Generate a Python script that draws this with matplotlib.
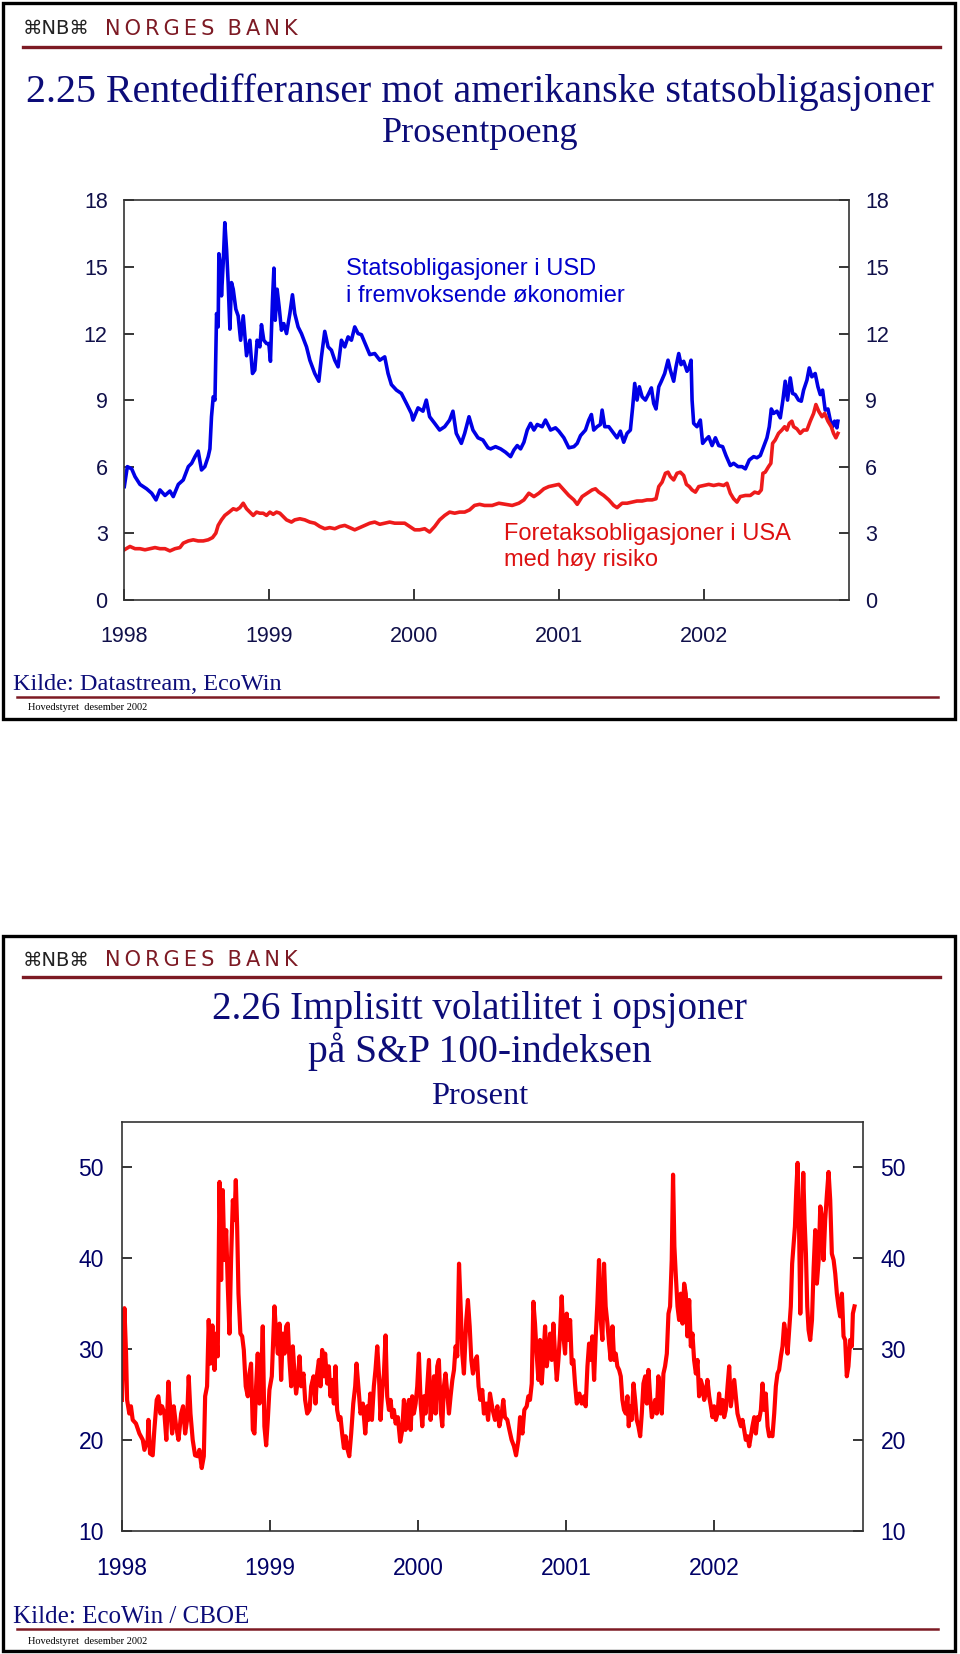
import numpy as np
import matplotlib
matplotlib.use("Agg")
import matplotlib.pyplot as plt
from matplotlib.patches import Rectangle
from matplotlib.lines import Line2D

# chart 2.25: spreads against US treasuries (percentage points)
em_t = [1998.000, 1998.021, 1998.051, 1998.074, 1998.108, 1998.154, 1998.189, 1998.219, 1998.246, 1998.281,
        1998.315, 1998.338, 1998.373, 1998.407, 1998.442, 1998.465, 1998.488, 1998.510, 1998.533, 1998.556,
        1998.579, 1998.591, 1998.602, 1998.614, 1998.626, 1998.637, 1998.648, 1998.653, 1998.665, 1998.671,
        1998.683, 1998.694, 1998.706, 1998.717, 1998.729, 1998.740, 1998.752, 1998.770, 1998.786, 1998.803,
        1998.821, 1998.844, 1998.867, 1998.885, 1998.901, 1998.917, 1998.936, 1998.947, 1998.963, 1998.982,
        1998.998, 1999.009, 1999.023, 1999.033, 1999.042, 1999.055, 1999.069, 1999.085, 1999.101, 1999.120,
        1999.143, 1999.161, 1999.177, 1999.200, 1999.223, 1999.258, 1999.281, 1999.315, 1999.343, 1999.361,
        1999.384, 1999.407, 1999.430, 1999.453, 1999.476, 1999.499, 1999.522, 1999.545, 1999.568, 1999.591,
        1999.614, 1999.637, 1999.672, 1999.695, 1999.729, 1999.764, 1999.798, 1999.821, 1999.844, 1999.879,
        1999.913, 1999.948, 1999.982, 1999.993, 2000.028, 2000.062, 2000.085, 2000.108, 2000.143, 2000.177,
        2000.212, 2000.246, 2000.269, 2000.292, 2000.327, 2000.350, 2000.380, 2000.407, 2000.442, 2000.476,
        2000.511, 2000.529, 2000.563, 2000.598, 2000.632, 2000.667, 2000.690, 2000.713, 2000.736, 2000.759,
        2000.782, 2000.805, 2000.828, 2000.851, 2000.885, 2000.908, 2000.943, 2000.977, 2001.000, 2001.035,
        2001.069, 2001.104, 2001.127, 2001.150, 2001.184, 2001.207, 2001.225, 2001.241, 2001.264, 2001.287,
        2001.299, 2001.317, 2001.345, 2001.379, 2001.402, 2001.425, 2001.448, 2001.471, 2001.494, 2001.510,
        2001.524, 2001.540, 2001.556, 2001.575, 2001.598, 2001.621, 2001.639, 2001.655, 2001.671, 2001.690,
        2001.708, 2001.731, 2001.754, 2001.770, 2001.793, 2001.809, 2001.828, 2001.844, 2001.862, 2001.885,
        2001.901, 2001.913, 2001.920, 2001.931, 2001.954, 2001.977, 2001.993, 2002.012, 2002.035, 2002.058,
        2002.081, 2002.104, 2002.131, 2002.154, 2002.184, 2002.207, 2002.237, 2002.265, 2002.288, 2002.315,
        2002.345, 2002.368, 2002.391, 2002.414, 2002.437, 2002.453, 2002.467, 2002.483, 2002.506, 2002.529,
        2002.547, 2002.563, 2002.579, 2002.598, 2002.614, 2002.632, 2002.655, 2002.674, 2002.690, 2002.713,
        2002.729, 2002.747, 2002.770, 2002.789, 2002.805, 2002.821, 2002.839, 2002.858, 2002.874, 2002.890,
        2002.904, 2002.920, 2002.927]
em_spread = [5.1, 6.0, 5.9, 5.55, 5.2, 5.0, 4.8, 4.5, 4.95, 4.7,
             4.9, 4.65, 5.2, 5.4, 6.0, 6.15, 6.45, 6.7, 5.85, 6.0,
             6.45, 6.8, 8.25, 9.15, 9.0, 12.9, 12.3, 15.6, 15.0, 13.7,
             15.2, 17.0, 15.8, 14.3, 12.2, 14.3, 14.0, 13.1, 12.8, 11.7,
             12.8, 11.0, 11.7, 10.2, 10.35, 11.7, 11.4, 12.4, 11.7, 11.55,
             11.55, 10.75, 13.5, 14.95, 12.6, 14.0, 13.2, 12.15, 12.45, 12.0,
             12.9, 13.75, 12.9, 12.3, 12.0, 11.4, 10.8, 10.2, 9.85, 10.95,
             12.1, 11.4, 11.25, 10.8, 10.5, 11.7, 11.4, 11.85, 11.7, 12.3,
             12.0, 11.95, 11.4, 11.05, 11.1, 10.8, 10.95, 10.2, 9.7, 9.45,
             9.3, 8.85, 8.4, 8.1, 8.65, 8.5, 9.0, 8.25, 7.95, 7.65,
             7.8, 8.1, 8.5, 7.5, 7.05, 7.5, 8.25, 7.65, 7.3, 7.2,
             6.85, 6.8, 6.9, 6.8, 6.65, 6.45, 6.75, 6.95, 6.8, 7.1,
             7.65, 7.95, 7.65, 7.9, 7.8, 8.1, 7.65, 7.75, 7.6, 7.3,
             6.85, 6.9, 7.05, 7.4, 7.65, 8.1, 8.35, 7.65, 7.8, 7.9,
             8.55, 7.8, 7.8, 7.5, 7.3, 7.6, 7.1, 7.5, 7.65, 8.7,
             9.75, 9.0, 9.6, 9.15, 9.0, 9.3, 9.55, 8.85, 8.6, 9.6,
             9.85, 10.2, 10.8, 10.35, 9.85, 10.5, 11.1, 10.6, 10.75, 10.3,
             10.5, 10.8, 9.0, 7.95, 7.8, 8.1, 7.05, 7.2, 7.35, 6.95,
             7.3, 6.95, 6.9, 6.5, 6.05, 6.15, 6.0, 6.0, 5.9, 6.3,
             6.45, 6.4, 6.5, 6.9, 7.3, 7.8, 8.6, 8.4, 8.5, 8.2,
             9.0, 9.85, 9.0, 10.0, 9.3, 9.25, 9.0, 8.95, 9.45, 9.9,
             10.45, 10.05, 10.2, 9.6, 9.25, 9.45, 8.55, 8.6, 8.1, 7.8,
             8.05, 7.75, 8.05]

hy_t = [1998.000, 1998.039, 1998.074, 1998.108, 1998.143, 1998.177, 1998.212, 1998.246, 1998.281, 1998.315,
        1998.350, 1998.384, 1998.407, 1998.442, 1998.476, 1998.510, 1998.545, 1998.579, 1998.609, 1998.632,
        1998.648, 1998.671, 1998.694, 1998.724, 1998.752, 1998.775, 1998.798, 1998.821, 1998.844, 1998.867,
        1998.890, 1998.913, 1998.936, 1998.959, 1998.982, 1999.005, 1999.028, 1999.051, 1999.074, 1999.097,
        1999.120, 1999.154, 1999.177, 1999.212, 1999.246, 1999.281, 1999.315, 1999.350, 1999.384, 1999.418,
        1999.453, 1999.488, 1999.522, 1999.557, 1999.591, 1999.626, 1999.660, 1999.695, 1999.729, 1999.764,
        1999.798, 1999.832, 1999.867, 1999.901, 1999.936, 1999.970, 2000.005, 2000.039, 2000.074, 2000.108,
        2000.143, 2000.177, 2000.212, 2000.246, 2000.281, 2000.315, 2000.350, 2000.384, 2000.418, 2000.453,
        2000.487, 2000.540, 2000.586, 2000.632, 2000.678, 2000.724, 2000.759, 2000.793, 2000.828, 2000.862,
        2000.897, 2000.931, 2000.966, 2001.000, 2001.035, 2001.069, 2001.104, 2001.127, 2001.161, 2001.196,
        2001.230, 2001.253, 2001.276, 2001.310, 2001.345, 2001.379, 2001.402, 2001.437, 2001.471, 2001.506,
        2001.540, 2001.575, 2001.609, 2001.644, 2001.671, 2001.690, 2001.713, 2001.736, 2001.754, 2001.770,
        2001.793, 2001.816, 2001.839, 2001.862, 2001.881, 2001.901, 2001.920, 2001.943, 2001.966, 2002.000,
        2002.035, 2002.069, 2002.104, 2002.138, 2002.161, 2002.184, 2002.207, 2002.230, 2002.253, 2002.288,
        2002.322, 2002.352, 2002.379, 2002.398, 2002.409, 2002.425, 2002.448, 2002.464, 2002.476, 2002.494,
        2002.517, 2002.540, 2002.559, 2002.575, 2002.591, 2002.609, 2002.621, 2002.644, 2002.667, 2002.690,
        2002.713, 2002.736, 2002.759, 2002.775, 2002.794, 2002.817, 2002.835, 2002.858, 2002.881, 2002.897,
        2002.913, 2002.927]
hy_spread = [2.25, 2.4, 2.3, 2.3, 2.25, 2.3, 2.35, 2.3, 2.3, 2.2,
             2.3, 2.35, 2.55, 2.65, 2.7, 2.65, 2.65, 2.7, 2.8, 3.0,
             3.35, 3.6, 3.8, 3.95, 4.1, 4.05, 4.15, 4.35, 4.1, 3.95,
             3.8, 3.95, 3.9, 3.9, 3.8, 3.95, 3.85, 3.95, 3.9, 3.75,
             3.6, 3.5, 3.6, 3.65, 3.6, 3.5, 3.45, 3.3, 3.2, 3.25,
             3.2, 3.3, 3.35, 3.25, 3.15, 3.25, 3.35, 3.45, 3.5, 3.4,
             3.45, 3.5, 3.45, 3.45, 3.45, 3.3, 3.15, 3.15, 3.2, 3.05,
             3.3, 3.6, 3.8, 3.95, 3.9, 3.95, 3.95, 4.05, 4.25, 4.3,
             4.25, 4.25, 4.35, 4.3, 4.25, 4.35, 4.5, 4.8, 4.65, 4.8,
             5.0, 5.1, 5.15, 5.2, 4.95, 4.7, 4.5, 4.3, 4.65, 4.8,
             4.95, 5.0, 4.85, 4.7, 4.5, 4.25, 4.15, 4.35, 4.35, 4.4,
             4.45, 4.45, 4.5, 4.5, 4.55, 5.1, 5.3, 5.7, 5.75, 5.55,
             5.4, 5.7, 5.75, 5.6, 5.2, 5.1, 4.95, 4.85, 5.1, 5.15,
             5.2, 5.15, 5.2, 5.15, 5.25, 4.8, 4.55, 4.4, 4.65, 4.7,
             4.7, 4.85, 4.8, 4.95, 5.7, 5.75, 6.0, 6.15, 7.05, 7.2,
             7.5, 7.65, 7.8, 7.65, 7.95, 8.05, 7.8, 7.7, 7.5, 7.65,
             7.65, 8.05, 8.4, 8.8, 8.5, 8.25, 8.4, 8.05, 7.8, 7.5,
             7.3, 7.5]

# chart 2.26: implied volatility, S&P 100 options (percent)
vol_t = [1998.000, 1998.017, 1998.028, 1998.035, 1998.050, 1998.061, 1998.073, 1998.095, 1998.118, 1998.141,
         1998.152, 1998.174, 1998.179, 1998.190, 1998.208, 1998.219, 1998.235, 1998.246, 1998.260, 1998.271,
         1998.287, 1998.300, 1998.314, 1998.327, 1998.339, 1998.350, 1998.366, 1998.382, 1998.400, 1998.413,
         1998.427, 1998.440, 1998.451, 1998.463, 1998.478, 1998.494, 1998.512, 1998.523, 1998.539, 1998.553,
         1998.562, 1998.575, 1998.586, 1998.598, 1998.611, 1998.625, 1998.636, 1998.647, 1998.659, 1998.670,
         1998.681, 1998.692, 1998.704, 1998.715, 1998.726, 1998.737, 1998.749, 1998.760, 1998.769, 1998.778,
         1998.787, 1998.800, 1998.812, 1998.823, 1998.836, 1998.850, 1998.861, 1998.872, 1998.884, 1998.895,
         1998.906, 1998.917, 1998.929, 1998.940, 1998.951, 1998.962, 1998.974, 1998.985, 1998.996, 1999.012,
         1999.030, 1999.041, 1999.053, 1999.064, 1999.075, 1999.086, 1999.098, 1999.109, 1999.120, 1999.131,
         1999.143, 1999.154, 1999.165, 1999.176, 1999.188, 1999.199, 1999.210, 1999.226, 1999.237, 1999.251,
         1999.267, 1999.278, 1999.294, 1999.307, 1999.318, 1999.330, 1999.341, 1999.352, 1999.363, 1999.372,
         1999.386, 1999.397, 1999.408, 1999.420, 1999.431, 1999.442, 1999.453, 1999.465, 1999.476, 1999.487,
         1999.499, 1999.510, 1999.521, 1999.535, 1999.548, 1999.562, 1999.575, 1999.584, 1999.598, 1999.611,
         1999.627, 1999.643, 1999.656, 1999.665, 1999.677, 1999.688, 1999.701, 1999.712, 1999.724, 1999.735,
         1999.746, 1999.758, 1999.769, 1999.780, 1999.791, 1999.803, 1999.814, 1999.825, 1999.836, 1999.848,
         1999.863, 1999.879, 1999.893, 1999.904, 1999.915, 1999.926, 1999.938, 1999.949, 1999.960, 1999.971,
         1999.983, 1999.994, 2000.005, 2000.017, 2000.028, 2000.039, 2000.050, 2000.062, 2000.073, 2000.084,
         2000.095, 2000.107, 2000.118, 2000.129, 2000.140, 2000.152, 2000.163, 2000.174, 2000.185, 2000.197,
         2000.208, 2000.219, 2000.231, 2000.242, 2000.253, 2000.264, 2000.276, 2000.287, 2000.298, 2000.309,
         2000.325, 2000.336, 2000.348, 2000.359, 2000.370, 2000.386, 2000.397, 2000.408, 2000.420, 2000.433,
         2000.444, 2000.460, 2000.472,
         2000.485, 2000.503, 2000.519, 2000.535, 2000.548, 2000.564, 2000.575, 2000.586, 2000.602, 2000.616,
         2000.631, 2000.647, 2000.661, 2000.677, 2000.688, 2000.704, 2000.717, 2000.733, 2000.744, 2000.755,
         2000.767, 2000.778, 2000.789, 2000.800, 2000.812, 2000.823, 2000.834, 2000.845, 2000.857, 2000.868,
         2000.879, 2000.891, 2000.902, 2000.913, 2000.924, 2000.936, 2000.947, 2000.958, 2000.969, 2000.981,
         2000.992, 2001.003, 2001.014, 2001.026, 2001.037, 2001.048, 2001.059, 2001.071, 2001.089, 2001.104,
         2001.120, 2001.131, 2001.143, 2001.154, 2001.165, 2001.176, 2001.188, 2001.199, 2001.210, 2001.221,
         2001.233, 2001.244, 2001.255, 2001.266, 2001.278, 2001.289, 2001.300, 2001.312, 2001.323, 2001.334,
         2001.345, 2001.357, 2001.368, 2001.379, 2001.390, 2001.402, 2001.413, 2001.422, 2001.431, 2001.442,
         2001.454, 2001.465, 2001.476, 2001.487, 2001.499, 2001.510, 2001.521, 2001.533, 2001.544, 2001.555,
         2001.566, 2001.578, 2001.589, 2001.600, 2001.611, 2001.622, 2001.634, 2001.645, 2001.656, 2001.667,
         2001.679, 2001.690, 2001.701, 2001.712, 2001.721, 2001.730, 2001.739, 2001.751, 2001.762, 2001.773,
         2001.785, 2001.796, 2001.807, 2001.818, 2001.830, 2001.841, 2001.852, 2001.863, 2001.875, 2001.886,
         2001.897, 2001.908, 2001.920, 2001.931, 2001.942, 2001.953, 2001.965, 2001.976, 2001.987, 2001.998,
         2002.010, 2002.021, 2002.032, 2002.043, 2002.055, 2002.066, 2002.077, 2002.089, 2002.100, 2002.111,
         2002.122, 2002.134, 2002.145, 2002.156, 2002.167, 2002.179, 2002.190, 2002.201, 2002.212, 2002.224,
         2002.235, 2002.246, 2002.257, 2002.269, 2002.280, 2002.291, 2002.302, 2002.314, 2002.325, 2002.336,
         2002.347, 2002.359, 2002.370, 2002.381, 2002.392, 2002.404, 2002.415, 2002.426, 2002.437, 2002.449,
         2002.460, 2002.471, 2002.482, 2002.494, 2002.505, 2002.516, 2002.525, 2002.534, 2002.544, 2002.553,
         2002.562, 2002.571, 2002.580, 2002.591, 2002.600, 2002.609, 2002.618, 2002.627, 2002.636, 2002.647,
         2002.659, 2002.670, 2002.681, 2002.692, 2002.704, 2002.715, 2002.726, 2002.737, 2002.748, 2002.760,
         2002.771, 2002.782, 2002.793, 2002.805, 2002.816, 2002.827, 2002.838, 2002.849, 2002.861, 2002.872,
         2002.883, 2002.894, 2002.905, 2002.917, 2002.928, 2002.935, 2002.946]
vol_index = [24.4, 34.5, 29.5, 24.4, 22.9, 23.7, 22.2, 21.8, 20.7, 20.0,
             18.9, 20.0, 22.2, 18.5, 18.3, 21.1, 24.4, 24.8, 22.9, 23.7,
             22.9, 20.0, 26.4, 23.3, 20.7, 23.7, 21.5, 20.0, 22.9, 23.7,
             20.7, 22.2, 27.0, 22.9, 20.0, 18.3, 18.2, 18.9, 16.9, 18.2,
             24.8, 25.9, 33.2, 28.4, 32.6, 27.7, 31.7, 29.2, 48.4, 37.6,
             47.5, 39.8, 43.1, 36.9, 31.7, 39.8, 46.4, 44.2, 48.6, 43.5,
             36.1, 31.7, 31.4, 29.9, 25.9, 24.8, 27.3, 28.4, 21.1, 20.7,
             25.9, 29.5, 24.0, 26.6, 32.5, 21.5, 19.4, 22.2, 25.5, 27.0,
             34.7, 31.7, 29.5, 32.8, 26.6, 31.7, 29.5, 32.5, 32.8, 28.8,
             25.9, 30.3, 27.3, 25.1, 26.6, 29.2, 25.9, 27.3, 24.4, 22.9,
             23.3, 25.9, 27.0, 24.0, 27.3, 28.8, 25.9, 29.9, 27.0, 29.5,
             26.2, 28.1, 24.8, 26.6, 24.0, 28.1, 23.3, 22.2, 22.5, 20.7,
             19.1, 20.4, 19.1, 18.2, 20.7, 24.0, 25.9, 28.4, 25.5, 22.9,
             24.0, 20.7, 23.7, 22.2, 25.1, 22.2, 25.9, 27.7, 30.3, 27.3,
             22.2, 25.5, 27.3, 31.5, 24.8, 23.3, 24.4, 22.5, 23.3, 21.8,
             22.5, 19.8, 21.1, 24.4, 21.1, 23.3, 24.4, 21.1, 24.8, 22.9,
             24.0, 25.9, 29.5, 24.0, 21.5, 24.8, 22.9, 25.9, 28.8, 22.2,
             24.0, 27.0, 22.9, 28.1, 28.8, 23.3, 21.5, 25.9, 27.3, 25.1,
             22.9, 24.8, 26.6, 27.7, 30.3, 29.2, 39.4, 34.7, 29.5, 27.3,
             33.2, 35.4, 32.5, 28.8, 27.3, 28.8, 29.2, 25.9, 24.4, 25.5,
             22.9, 24.0, 22.2,
             25.1, 23.3, 22.2, 23.7, 21.5, 22.9, 24.4, 22.5, 22.2, 21.1,
             20.0, 19.3, 18.3, 20.0, 22.5, 20.7, 23.3, 23.7, 24.8, 24.4,
             26.2, 35.2, 32.8, 29.5, 26.6, 31.0, 26.2, 28.8, 32.5, 28.1,
             29.5, 31.7, 28.8, 32.8, 29.5, 26.6, 28.8, 31.7, 35.8, 31.4,
             29.5, 33.9, 31.0, 33.2, 28.4, 28.8, 26.2, 24.0, 25.1, 24.0,
             24.8, 23.7, 28.1, 30.6, 28.8, 31.4, 26.6, 31.4, 35.0, 39.8,
             33.2, 31.0, 39.4, 34.7, 32.8, 30.6, 28.8, 32.5, 28.8, 29.5,
             28.1, 27.7, 27.0, 24.4, 23.3, 22.9, 24.8, 21.5, 23.7, 22.2,
             26.2, 24.4, 22.2, 21.5, 20.4, 22.9, 26.2, 27.0, 24.0, 27.7,
             24.8, 22.5, 23.3, 24.4, 22.9, 27.0, 24.0, 22.9, 27.3, 28.1,
             29.5, 33.9, 34.7, 39.8, 49.2, 41.3, 38.3, 34.7, 33.2, 36.1,
             32.8, 37.2, 36.1, 31.4, 35.4, 30.3, 31.7, 28.8, 27.3, 28.8,
             24.8, 26.6, 25.9, 24.4, 25.1, 26.6, 24.8, 23.7, 22.5, 23.7,
             22.2, 22.9, 25.1, 22.9, 24.4, 22.5, 23.3, 25.9, 28.1, 23.7,
             25.1, 26.6, 24.8, 22.9, 22.2, 21.5, 22.2, 21.1, 20.0, 20.4,
             19.3, 20.4, 21.5, 22.5, 20.7, 22.5, 22.2, 23.3, 26.2, 23.3,
             25.1, 21.5, 20.4, 20.7, 20.4, 22.9, 25.9, 27.3, 27.7, 29.2,
             30.3, 32.8, 31.7, 29.5, 32.1, 34.7, 39.4, 41.3, 43.5, 47.5,
             50.5, 44.2, 33.9, 42.8, 49.4, 44.2, 40.5, 34.7, 32.1, 31.0,
             33.2, 38.9, 43.1, 37.2, 39.8, 45.7, 44.5, 39.8, 44.2, 47.1,
             49.5, 46.4, 40.5, 39.8, 38.3, 36.1, 34.7, 33.6, 36.1, 31.4,
             31.0, 27.0, 28.1, 31.0, 30.3, 33.9, 34.7]

years = [1998, 1999, 2000, 2001, 2002]
spread_ticks = [0, 3, 6, 9, 12, 15, 18]
vol_ticks = [10, 20, 30, 40, 50]

NAVY = "#0c0c78"
DARKRED = "#7d1a24"
W, H = 960, 1654

fig = plt.figure(figsize=(W / 100, H / 100), dpi=100)


def fx(px):
    return px / W


def fy(py):
    return 1 - py / H


def slide_frame(top, bottom, head_y, line_y, kilde, kilde_size, kilde_y, uline_y, foot_y):
    fig.add_artist(Rectangle((fx(3), fy(bottom)), fx(952), (bottom - top) / H,
                             transform=fig.transFigure, fill=False, lw=2.4, ec="black"))
    fig.text(fx(23), fy(head_y), "\u2318NB\u2318", fontsize=14, color="#222222",
             family="DejaVu Sans", va="center", ha="left")
    fig.text(fx(105), fy(head_y), "N\u2009O\u2009R\u2009G\u2009E\u2009S  B\u2009A\u2009N\u2009K",
             fontsize=15, color=DARKRED, family="DejaVu Sans", va="center", ha="left")
    fig.add_artist(Line2D([fx(23), fx(940)], [fy(line_y), fy(line_y)],
                          transform=fig.transFigure, color=DARKRED, lw=2.4))
    fig.text(fx(13), fy(kilde_y), kilde, fontsize=kilde_size, color=NAVY,
             family="Liberation Serif", va="center", ha="left")
    fig.add_artist(Line2D([fx(17), fx(938)], [fy(uline_y), fy(uline_y)],
                          transform=fig.transFigure, color=DARKRED, lw=1.8))
    fig.text(fx(28), fy(foot_y), "Hovedstyret  desember 2002", fontsize=7.5, color="black",
             family="Liberation Serif", va="center", ha="left")


def style_axes(ax, color, ysize, xsize, lpad, xpad):
    for s in ax.spines.values():
        s.set_linewidth(1.2)
        s.set_color("#333333")
    ax.tick_params(axis="y", direction="in", length=7, width=1.1, left=True, right=True,
                   labelleft=True, labelright=True, pad=lpad, labelsize=ysize, labelcolor=color)
    ax.tick_params(axis="x", direction="in", length=8, width=1.1, pad=xpad,
                   labelsize=xsize, labelcolor=color)
    for lab in ax.get_xticklabels() + ax.get_yticklabels():
        lab.set_family("Liberation Sans")


# ---- top slide: 2.25 ----
slide_frame(3, 719, 29, 47, "Kilde: Datastream, EcoWin", 17.5, 684, 697, 708)
fig.text(0.5, fy(92), "2.25 Rentedifferanser mot amerikanske statsobligasjoner", fontsize=28.8,
         color=NAVY, family="Liberation Serif", ha="center", va="center")
fig.text(0.5, fy(133), "Prosentpoeng", fontsize=26, color=NAVY,
         family="Liberation Serif", ha="center", va="center")

ax1 = fig.add_axes([fx(124.3), fy(599.7), (848.5 - 124.3) / W, (599.7 - 200.5) / H])
ax1.plot(em_t, em_spread, color="#0000e6", lw=2.6, solid_joinstyle="round")
ax1.plot(hy_t, hy_spread, color="#ee1b1b", lw=2.6, solid_joinstyle="round")
ax1.set_xlim(1998, 2003)
ax1.set_ylim(0, 18)
ax1.set_yticks(spread_ticks)
ax1.set_xticks(years)
ax1.set_xticklabels([str(y) for y in years])
style_axes(ax1, "#10104a", 15.5, 15.5, 12, 19)
ax1.text(1999.53, 14.3, "Statsobligasjoner i USD\ni fremvoksende \u00f8konomier",
         color="#0000cc", fontsize=17, family="Liberation Sans", va="center", ha="left",
         linespacing=1.25)
ax1.text(2000.62, 2.39, "Foretaksobligasjoner i USA\nmed h\u00f8y risiko",
         color="#dd1111", fontsize=17, family="Liberation Sans", va="center", ha="left",
         linespacing=1.25)

# ---- bottom slide: 2.26 ----
slide_frame(936, 1651, 960, 977, "Kilde: EcoWin / CBOE", 18, 1617, 1629, 1641)
fig.text(0.5, fy(1010), "2.26 Implisitt volatilitet i opsjoner", fontsize=28.2,
         color=NAVY, family="Liberation Serif", ha="center", va="center")
fig.text(0.5, fy(1052), "p\u00e5 S&P 100-indeksen", fontsize=28.5,
         color=NAVY, family="Liberation Serif", ha="center", va="center")
fig.text(0.5, fy(1097), "Prosent", fontsize=23.4, color=NAVY,
         family="Liberation Serif", ha="center", va="center")

ax2 = fig.add_axes([fx(121.9), fy(1530.7), (862.5 - 121.9) / W, (1530.7 - 1122) / H])
ax2.plot(vol_t, vol_index, color="#ff0000", lw=3.0, solid_joinstyle="round")
ax2.set_xlim(1998, 2003)
ax2.set_ylim(10, 55)
ax2.set_yticks(vol_ticks)
ax2.set_xticks(years)
ax2.set_xticklabels([str(y) for y in years])
style_axes(ax2, "#000066", 16.5, 16.5, 13, 19)

fig.savefig("out.png", dpi=100)
